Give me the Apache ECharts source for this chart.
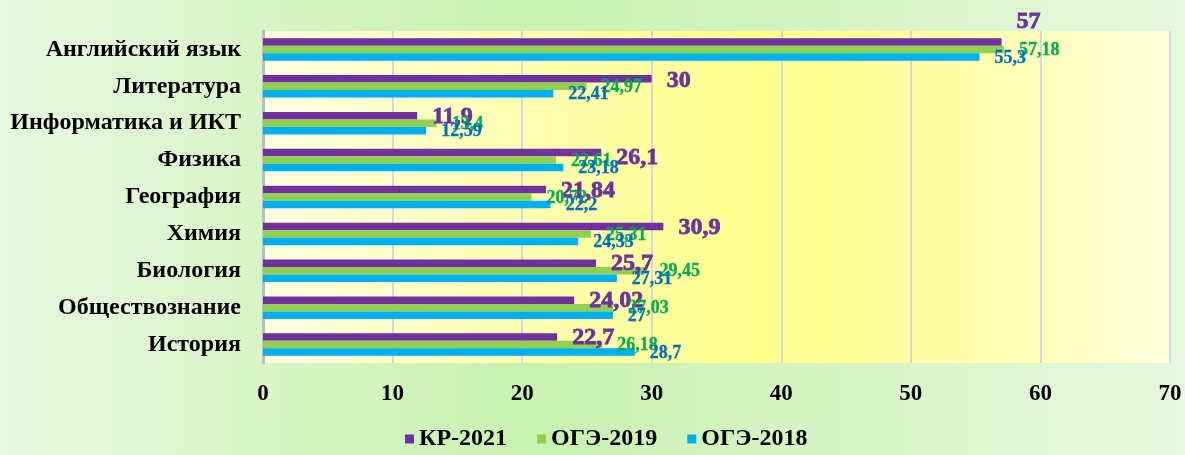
<!DOCTYPE html>
<html>
<head>
<meta charset="utf-8">
<script src="https://cdn.jsdelivr.net/npm/echarts@6/dist/echarts.min.js"></script>
<style>
  html, body { margin: 0; padding: 0; }
  #chart { width: 1185px; height: 455px; }
</style>
</head>
<body>
<div id="chart"></div>
<script>
// Subjects, top to bottom
const subjects = [
  'Английский язык', 'Литература', 'Информатика и ИКТ', 'Физика', 'География',
  'Химия', 'Биология', 'Обществознание', 'История'
];
const kr2021 = [57, 30, 11.9, 26.1, 21.84, 30.9, 25.7, 24.02, 22.7];
const oge2019 = [57.18, 24.97, 13.4, 22.61, 20.72, 25.31, 29.45, 27.03, 26.18];
const oge2018 = [55.3, 22.41, 12.59, 23.18, 22.2, 24.33, 27.31, 27, 28.7];
const xTicks = [0, 10, 20, 30, 40, 50, 60, 70];

// Vertical nudges for a few КР-2021 value labels
const krLabelShift = { 0: -20, 1: 2, 3: 5 };

const FONT = '"Liberation Serif", "Times New Roman", serif';
const fmt = v => String(v).replace('.', ',');

function seriesData(values, baseDy, shifts) {
  return values.map((v, i) => {
    const dy = shifts && shifts[i] !== undefined ? shifts[i] : baseDy;
    return { value: v, label: { offset: [0, dy] } };
  });
}

function barSeries(name, values, color, labelColor, labelSize, baseDy, shifts, heavy) {
  return {
    name: name,
    type: 'bar',
    data: seriesData(values, baseDy, shifts),
    barWidth: 7.5,
    barGap: '0%',
    itemStyle: { color: color },
    label: {
      show: true,
      position: 'right',
      distance: 15,
      color: labelColor,
      fontFamily: FONT,
      fontWeight: 'bold',
      fontSize: labelSize,
      textBorderColor: labelColor,
      textBorderWidth: heavy,
      formatter: p => fmt(p.value)
    },
    z: 3
  };
}

const chart = echarts.init(document.getElementById('chart'), null, { renderer: 'canvas' });

chart.setOption({
  animation: false,
  backgroundColor: {
    type: 'linear', x: 0, y: 0, x2: 1, y2: 0,
    colorStops: [
      { offset: 0, color: '#e6f8de' },
      { offset: 0.45, color: '#c8f2b0' },
      { offset: 1, color: '#e6f8de' }
    ]
  },
  grid: {
    left: 263, right: 15, top: 31, bottom: 92,
    show: true,
    borderWidth: 0,
    backgroundColor: {
      type: 'linear', x: 0, y: 0, x2: 1, y2: 0,
      colorStops: [
        { offset: 0, color: '#ffffe0' },
        { offset: 0.3, color: '#ffffb0' },
        { offset: 0.55, color: '#ffff8c' },
        { offset: 0.75, color: '#ffffa6' },
        { offset: 1, color: '#ffffdc' }
      ]
    }
  },
  legend: {
    bottom: 0,
    left: 405,
    padding: [4, 0],
    icon: 'rect',
    itemWidth: 9,
    itemHeight: 9,
    itemGap: 30,
    textStyle: { fontFamily: FONT, fontWeight: 'bold', fontSize: 24, color: '#000' },
    data: ['КР-2021', 'ОГЭ-2019', 'ОГЭ-2018']
  },
  xAxis: {
    type: 'value',
    min: xTicks[0],
    max: xTicks[xTicks.length - 1],
    interval: 10,
    axisLine: { show: false },
    axisTick: { show: false },
    splitLine: { show: true, lineStyle: { color: '#d6d6e0', width: 2 } },
    axisLabel: {
      margin: 20,
      fontFamily: FONT, fontWeight: 'bold', fontSize: 23, color: '#000'
    }
  },
  yAxis: {
    type: 'category',
    data: subjects,
    inverse: true,
    axisLine: { show: true, lineStyle: { color: '#bdbdbd', width: 3 } },
    axisTick: { show: false },
    axisLabel: {
      margin: 22,
      fontFamily: FONT, fontWeight: 'bold', fontSize: 24, color: '#000'
    }
  },
  series: [
    barSeries('КР-2021', kr2021, '#7030a0', '#7030a0', 24, 1, krLabelShift, 0.8),
    barSeries('ОГЭ-2019', oge2019, '#92d050', '#00b050', 18, 1, null, 0.3),
    barSeries('ОГЭ-2018', oge2018, '#00b0f0', '#0070c0', 18, 1, null, 0.3)
  ]
});
</script>
</body>
</html>
